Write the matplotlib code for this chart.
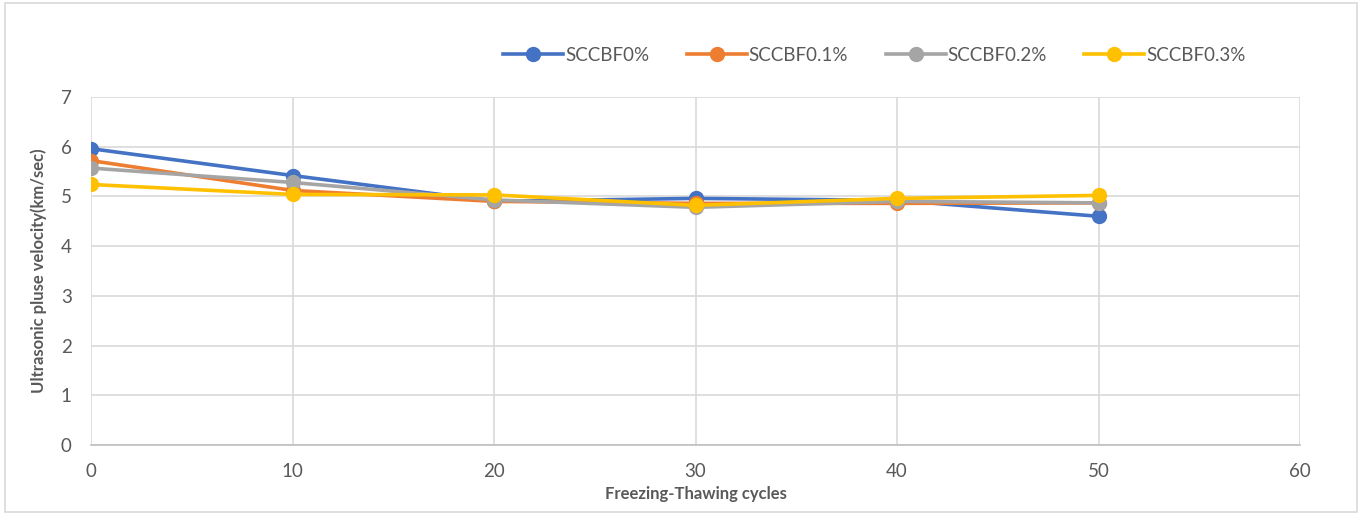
import matplotlib.pyplot as plt
from matplotlib.patches import Rectangle

plt.rcParams['font.family'] = ['Lato', 'DejaVu Sans']

# Data
cycles = [0, 10, 20, 30, 40, 50]
labels = ['SCCBF0%', 'SCCBF0.1%', 'SCCBF0.2%', 'SCCBF0.3%']
upv_0 = [5.96, 5.42, 4.90, 4.96, 4.92, 4.60]
upv_01 = [5.72, 5.12, 4.90, 4.86, 4.86, 4.87]
upv_02 = [5.57, 5.28, 4.93, 4.78, 4.90, 4.87]
upv_03 = [5.24, 5.04, 5.03, 4.82, 4.96, 5.02]
colors = ['#4472C4', '#ED7D31', '#A5A5A5', '#FFC000']

fig = plt.figure(figsize=(13.65, 5.15), dpi=100)
ax = fig.add_axes([0.0667, 0.136, 0.8857, 0.6757])

for vals, lab, c in zip([upv_0, upv_01, upv_02, upv_03], labels, colors):
    ax.plot(cycles, vals, color=c, lw=2.6, marker='o', markersize=10, label=lab)

ax.set_xlim(0, 60)
ax.set_ylim(0, 7)
ax.set_xticks(range(0, 61, 10))
ax.set_yticks(range(0, 8))
ax.grid(True, color='#D9D9D9', lw=1.2)
ax.set_axisbelow(True)
for s in ['top', 'right', 'left']:
    ax.spines[s].set_visible(False)
ax.spines['bottom'].set_color('#BFBFBF')
ax.spines['bottom'].set_linewidth(1.2)
ax.tick_params(length=0, labelsize=13.5, colors='#595959', pad=13)
ax.tick_params(axis='y', pad=14)

ax.set_xlabel('Freezing-Thawing cycles', fontsize=12, fontweight='bold',
              color='#595959', labelpad=4)
ax.set_ylabel('Ultrasonic pluse velocity(km/sec)', fontsize=12, fontweight='bold',
              color='#595959', labelpad=10)

ax.legend(loc='center', bbox_to_anchor=(0.648, 1.12), ncol=4, frameon=False,
          fontsize=13.5, labelcolor='#595959', handlelength=3.2,
          handletextpad=0.1, columnspacing=2.0)

# outer chart border
fig.patches.append(Rectangle((0.004, 0.006), 0.99, 0.988, transform=fig.transFigure,
                             fill=False, edgecolor='#D9D9D9', lw=1.2))

fig.savefig('out.png', dpi=100)
